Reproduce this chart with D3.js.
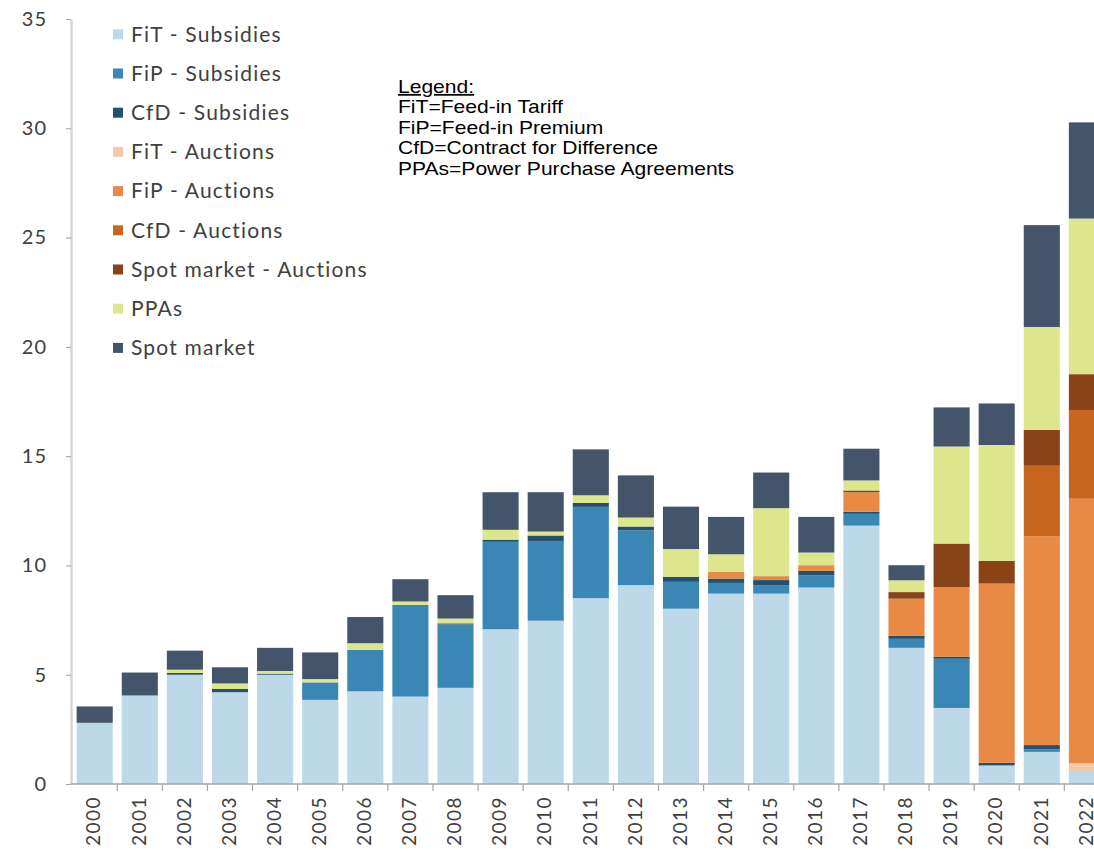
<!DOCTYPE html>
<html><head><meta charset="utf-8">
<script src="https://cdn.jsdelivr.net/npm/d3@7"></script>
<style>body{margin:0;background:#fff}svg{display:block}</style>
</head><body>
<svg id="chart" width="1094" height="852"></svg>
<script>
const years = ["2000","2001","2002","2003","2004","2005","2006","2007","2008","2009","2010","2011","2012","2013","2014","2015","2016","2017","2018","2019","2020","2021","2022"];
const seriesNames = ["FiT - Subsidies","FiP - Subsidies","CfD - Subsidies","FiT - Auctions","FiP - Auctions","CfD - Auctions","Spot market - Auctions","PPAs","Spot market"];
const fitSubsidies = [2.8,4.05,5.0,4.2,5.0,3.85,4.24,4.0,4.4,7.08,7.47,8.5,9.1,8.02,8.71,8.71,8.99,11.82,6.23,3.48,0.85,1.47,0.55];
const fipSubsidies = [0,0,0,0,0,0.8,1.9,4.2,2.9,4.0,3.65,4.18,2.5,1.23,0.49,0.39,0.56,0.54,0.41,2.25,0,0.12,0];
const cfdSubsidies = [0,0,0.08,0.15,0.05,0,0,0,0.05,0.1,0.25,0.18,0.18,0.23,0.2,0.23,0.2,0.1,0.15,0.1,0.12,0.19,0];
const fitAuctions = [0,0,0,0,0,0,0,0,0,0,0,0,0,0,0,0,0,0,0,0,0,0,0.4];
const fipAuctions = [0,0,0,0,0,0,0,0,0,0,0,0,0,0,0.3,0.18,0.26,0.89,1.69,3.18,8.2,9.56,12.1];
const cfdAuctions = [0,0,0,0,0,0,0,0,0,0,0,0,0,0,0,0,0,0,0,0,0,3.22,4.06];
const spotAuctions = [0,0,0,0,0,0,0,0,0,0,0,0,0,0,0,0,0,0.08,0.3,1.99,1.04,1.64,1.64];
const ppas = [0,0,0.15,0.25,0.12,0.15,0.3,0.15,0.22,0.45,0.18,0.35,0.41,1.27,0.81,3.11,0.58,0.46,0.54,4.44,5.3,4.71,7.12];
const spotMarket = [0.75,1.05,0.87,0.74,1.06,1.22,1.2,1.02,1.07,1.72,1.8,2.1,1.93,1.94,1.71,1.63,1.63,1.45,0.69,1.79,1.9,4.66,4.4];
const yTicks = [0,5,10,15,20,25,30,35];
const noteLines = ["FiT=Feed-in Tariff","FiP=Feed-in Premium","CfD=Contract for Difference","PPAs=Power Purchase Agreements"];

const colors = ["#bdd8e8","#3a87b5","#22506e","#f4c8a8","#e88a45","#c8661f","#8a4217","#dde68c","#44546a"];
const seriesValues = [fitSubsidies,fipSubsidies,cfdSubsidies,fitAuctions,fipAuctions,cfdAuctions,spotAuctions,ppas,spotMarket];

const table = years.map((yr,i)=>{
  const row = {year: yr};
  seriesNames.forEach((s,k)=>{ row[s] = seriesValues[k][i]; });
  return row;
});

const svg = d3.select("#chart");
const x = d3.scaleBand().domain(years).range([72.15, 72.15 + 23*45.1]).paddingInner(0.2).paddingOuter(0.1);
const y = d3.scaleLinear().domain([0,35]).range([784,19]);
const color = d3.scaleOrdinal().domain(seriesNames).range(colors);

const stacked = d3.stack().keys(seriesNames)(table);

svg.append("g").selectAll("g").data(stacked).join("g")
  .attr("fill", d=>color(d.key))
  .selectAll("rect").data(d=>d).join("rect")
  .attr("x", d=>x(d.data.year))
  .attr("width", x.bandwidth())
  .attr("y", d=>y(d[1]))
  .attr("height", d=>Math.max(0, y(d[0]) - y(d[1])));

// Y axis
const yAxis = svg.append("g").attr("transform","translate(71,0)")
  .call(d3.axisLeft(y).tickValues(yTicks).tickSize(5).tickSizeOuter(0).tickPadding(19));
yAxis.select(".domain").attr("stroke","#d6d6d6").attr("stroke-width",2.5);
yAxis.selectAll(".tick line").attr("stroke","#a0a0a0");
yAxis.selectAll(".tick text").attr("fill","#404040").style("font-family","Lato").style("font-size","20px").style("letter-spacing","1px");

// X axis
const xAxis = svg.append("g").attr("transform","translate(0,784)")
  .call(d3.axisBottom(x).tickSize(0).tickSizeOuter(0));
xAxis.select(".domain").attr("stroke","#a6a6a6").attr("stroke-width",1.5).attr("d","M71,0H1094");
xAxis.selectAll(".tick text")
  .attr("transform","rotate(-90)")
  .attr("text-anchor","end")
  .attr("x",-12).attr("y",0).attr("dy","0.3em")
  .attr("fill","#404040").style("font-family","Lato").style("font-size","19px").style("letter-spacing","1.5px");
const step = x.step();
svg.append("g").selectAll("line").data(years.slice(1)).join("line")
  .attr("x1", d=>x(d) - step*x.paddingInner()/2)
  .attr("x2", d=>x(d) - step*x.paddingInner()/2)
  .attr("y1",784).attr("y2",791)
  .attr("stroke","#a6a6a6").attr("stroke-width",1.2);

// Legend
const legend = svg.append("g").selectAll("g").data(seriesNames).join("g")
  .attr("transform",(d,i)=>`translate(113,${34.3 + 39.2*i})`);
legend.append("rect").attr("x",0).attr("y",-5).attr("width",10).attr("height",10).attr("fill",d=>color(d));
legend.append("text").attr("x",18).attr("y",0).attr("dy","0.35em")
  .attr("fill","#404040").style("font-family","Lato").style("font-size","21px").style("letter-spacing","1.2px").text(d=>d);

// Note
const note = svg.append("g").attr("transform","translate(398,0) scale(1.17,1)")
  .style("font-family","'Liberation Sans', Arial, sans-serif").style("font-size","18px").attr("fill","#000");
note.append("text").attr("x",0).attr("y",93).text("Legend:").style("text-decoration","underline");
note.selectAll("text.l").data(noteLines).join("text").attr("class","l")
  .attr("x",0).attr("y",(d,i)=>113.5 + 20.4*i).text(d=>d);
</script>
</body></html>
